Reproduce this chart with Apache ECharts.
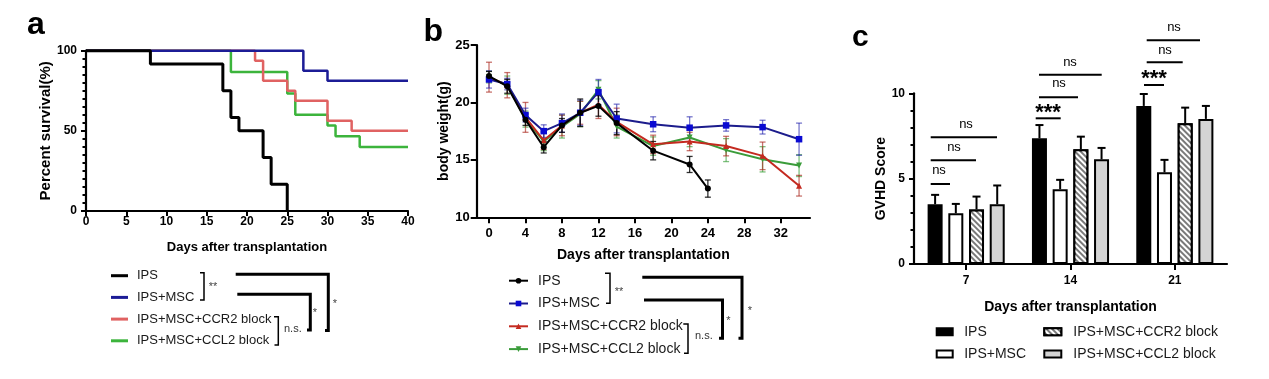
<!DOCTYPE html>
<html><head><meta charset="utf-8">
<script src="https://cdn.jsdelivr.net/npm/echarts@6/dist/echarts.min.js"></script>
<style>html,body{margin:0;padding:0;background:#fff}#c{width:1269px;height:379px}</style>
</head><body><div id="c"></div>
<script>
// ---------------- DATA ----------------
const groupNames = ['IPS', 'IPS+MSC', 'IPS+MSC+CCR2 block', 'IPS+MSC+CCL2 block'];

// (a) Kaplan-Meier survival: [day, percent]
const survIPS  = [[0,100],[8,91.7],[17,75],[18,58.3],[19,50],[22,33.3],[23,16.7],[25,0]];
const survMSC  = [[0,100],[27,87.5],[30,81.3],[40,81.3]];
const survCCR2 = [[0,100],[21,93.8],[22,81.3],[25,75],[26,68.8],[30,56.3],[33,50],[40,50]];
const survCCL2 = [[0,100],[18,86.7],[25,73.3],[26,60],[30,53.3],[31,46.7],[34,40],[40,40]];
const survXTicks = [0,5,10,15,20,25,30,35,40];

// (b) body weight (g)
const wDays    = [0,2,4,6,8,10,12,14,18,22,26,30,34];
const ipsDays  = [0,2,4,6,8,10,12,14,18,22,24];
const wIPS     = [22.3,21.4,18.5,16.1,18.0,19.1,19.7,18.2,15.8,14.6,12.5];
const wIPSErr  = [0.4,0.6,0.5,0.5,0.6,1.2,0.9,1.0,0.8,0.7,0.75];
const wMSC     = [22.0,21.6,18.9,17.5,18.2,19.1,20.9,18.6,18.1,17.8,18.0,17.85,16.8];
const wMSCErr  = [0.75,0.5,0.6,0.55,0.8,1.1,1.1,1.25,0.65,0.95,0.5,0.6,1.4];
const wCCR2    = [22.2,21.5,18.7,16.7,18.0,19.1,19.8,18.3,16.35,16.6,16.2,15.35,12.75];
const wCCR2Err = [1.3,1.1,1.3,0.8,0.9,1.0,1.2,1.2,0.8,0.8,0.85,1.2,0.9];
const wCCL2    = [22.2,21.5,18.55,16.6,17.9,19.0,21.1,17.9,16.2,16.95,15.85,15.05,14.5];
const wCCL2Err = [0.5,0.8,0.7,0.8,1.0,1.1,0.8,1.0,0.8,0.8,1.0,1.1,0.95];
const wXTicks  = [0,4,8,12,16,20,24,28,32];

// (c) GVHD score
const gDays    = ['7','14','21'];
const gIPS     = [3.5,7.36,9.26];
const gIPSErr  = [0.55,0.78,0.7];
const gMSC     = [2.97,4.38,5.37];
const gMSCErr  = [0.55,0.55,0.73];
const gCCR2    = [3.2,6.72,8.24];
const gCCR2Err = [0.75,0.74,0.92];
const gCCL2    = [3.5,6.13,8.5];
const gCCL2Err = [1.1,0.67,0.76];

// ---------------- STYLE ----------------
const FONT = 'Liberation Sans, Arial, sans-serif';
const BAR_W = 15, BAR_GAP = 0.38;

function axisCommon(o) {
  return Object.assign({
    axisLine: {show: true, onZero: false, lineStyle: {color: '#000', width: 2.2}},
    axisTick: {show: true, length: 5, lineStyle: {color: '#000', width: 2}},
    axisLabel: {color: '#000', fontWeight: 'bold', fontSize: 12, fontFamily: FONT},
    splitLine: {show: false},
    nameLocation: 'middle',
    nameTextStyle: {color: '#000', fontWeight: 'bold', fontSize: 14, fontFamily: FONT}
  }, o);
}
function merge(a, b) { return Object.assign({}, a, b); }
const pairs = (xs, ys) => xs.map((x, i) => [x, ys[i]]);

function errSeriesB(name, xs, ys, errs, color) {
  return {
    name: name, type: 'custom', xAxisIndex: 1, yAxisIndex: 1, z: 1, silent: true,
    encode: {x: 0, y: [1, 2]},
    data: xs.map((x, i) => [x, ys[i] - errs[i], ys[i] + errs[i]]),
    renderItem: function (params, api) {
      const x = api.value(0);
      const lo = api.coord([x, api.value(1)]);
      const hi = api.coord([x, api.value(2)]);
      const hw = 3;
      const st = {stroke: color, lineWidth: 1.3};
      return {type: 'group', children: [
        {type: 'line', shape: {x1: lo[0], y1: lo[1], x2: hi[0], y2: hi[1]}, style: st},
        {type: 'line', shape: {x1: lo[0] - hw, y1: lo[1], x2: lo[0] + hw, y2: lo[1]}, style: st},
        {type: 'line', shape: {x1: hi[0] - hw, y1: hi[1], x2: hi[0] + hw, y2: hi[1]}, style: st}
      ]};
    }
  };
}

function errSeriesC(name, k, ys, errs) {
  return {
    name: name, type: 'custom', xAxisIndex: 2, yAxisIndex: 2, z: 3, silent: true,
    encode: {x: 0, y: [1, 2]},
    data: ys.map((y, i) => [i, y, y + errs[i]]),
    renderItem: function (params, api) {
      const c = api.value(0);
      const base = api.coord([c, api.value(1)]);
      const top = api.coord([c, api.value(2)]);
      const x = base[0] + (k - 1.5) * BAR_W * (1 + BAR_GAP);
      const hw = 4;
      const st = {stroke: '#000', lineWidth: 2};
      return {type: 'group', children: [
        {type: 'line', shape: {x1: x, y1: base[1], x2: x, y2: top[1]}, style: st},
        {type: 'line', shape: {x1: x - hw, y1: top[1], x2: x + hw, y2: top[1]}, style: st}
      ]};
    }
  };
}

const colA = ['#000000', '#1c1c96', '#e06262', '#3cb43c'];
const colBLine = ['#000000', '#1c1c8c', '#c42a20', '#3a9c3a'];
const colBSym  = ['#000000', '#0a0ad2', '#c42a20', '#3a9c3a'];
const colBErr  = ['rgba(0,0,0,0.8)', 'rgba(30,30,170,0.6)', 'rgba(170,40,30,0.65)', 'rgba(40,150,40,0.6)'];

const fmt = (n) => n.split('|')[1];

// ---------------- SERIES ----------------
const series = [];
// panel a (draw black last)
const survData = [survIPS, survMSC, survCCR2, survCCL2];
[3, 2, 1, 0].forEach(function (k) {
  series.push({
    name: 'a|' + groupNames[k], type: 'line', xAxisIndex: 0, yAxisIndex: 0,
    step: 'end', symbol: 'none', clip: false, z: 2 + (3 - k),
    data: survData[k],
    itemStyle: {color: colA[k]},
    lineStyle: {color: colA[k], width: k === 0 ? 3 : 2.5}
  });
});
// panel b
const wData = [pairs(ipsDays, wIPS), pairs(wDays, wMSC), pairs(wDays, wCCR2), pairs(wDays, wCCL2)];
const wErr = [[ipsDays, wIPS, wIPSErr], [wDays, wMSC, wMSCErr], [wDays, wCCR2, wCCR2Err], [wDays, wCCL2, wCCL2Err]];
const syms = ['circle', 'rect', 'triangle', 'path://M0,0 L10,0 L5,10 Z'];
const symSize = [6, 6.5, 6, 6];
[3, 2, 1, 0].forEach(function (k) {
  series.push(errSeriesB('eb' + k, wErr[k][0], wErr[k][1], wErr[k][2], colBErr[k]));
});
[3, 2, 1, 0].forEach(function (k) {
  series.push({
    name: 'b|' + groupNames[k], type: 'line', xAxisIndex: 1, yAxisIndex: 1,
    symbol: syms[k], symbolSize: symSize[k], showSymbol: true, clip: false, z: 3 + (3 - k),
    data: wData[k],
    itemStyle: {color: colBSym[k]},
    lineStyle: {color: colBLine[k], width: 2}
  });
});
// panel c
const gData = [gIPS, gMSC, gCCR2, gCCL2];
const gErr = [gIPSErr, gMSCErr, gCCR2Err, gCCL2Err];
const barStyles = [
  {color: '#000000', borderColor: '#000', borderWidth: 2},
  {color: '#ffffff', borderColor: '#000', borderWidth: 2},
  {color: '#7a7a7a', borderColor: '#000', borderWidth: 2,
    decal: {symbol: 'rect', symbolSize: 1, color: '#ffffff', dashArrayX: [1, 0], dashArrayY: [1.9, 1.9], rotation: Math.PI / 4}},
  {color: '#d4d4d4', borderColor: '#000', borderWidth: 2}
];
[0, 1, 2, 3].forEach(function (k) {
  series.push({
    name: 'c|' + groupNames[k], type: 'bar', xAxisIndex: 2, yAxisIndex: 2,
    barWidth: BAR_W, barGap: (BAR_GAP * 100) + '%', z: 2,
    data: gData[k], itemStyle: barStyles[k]
  });
});
[0, 1, 2, 3].forEach(function (k) { series.push(errSeriesC('ec' + k, k, gData[k], gErr[k])); });

// ---------------- ANNOTATIONS ----------------
const T = (x, y, text, size, opts) => ({
  type: 'text', x: x, y: y, silent: true,
  style: Object.assign({text: text, fontSize: size, fontFamily: FONT, fill: '#000', align: 'center', verticalAlign: 'middle'}, opts || {})
});
const PL = (pts, w) => ({type: 'polyline', silent: true, shape: {points: pts}, style: {stroke: '#000', lineWidth: w, fill: null, lineJoin: 'miter'}});
const LN = (x1, x2, y) => ({type: 'line', silent: true, shape: {x1: x1, y1: y, x2: x2, y2: y}, style: {stroke: '#000', lineWidth: 2}});

const graphics = [
  T(27, 25.5, 'a', 32, {fontWeight: 'bold', align: 'left'}),
  T(423.5, 32.5, 'b', 32, {fontWeight: 'bold', align: 'left'}),
  T(852, 38, 'c', 30, {fontWeight: 'bold', align: 'left'}),
  // panel a brackets
  PL([[200, 272.7], [204, 272.7], [204, 300], [200, 300]], 1.5),
  T(213, 287.4, '**', 11, {fill: '#444'}),
  PL([[235.7, 274.3], [328.3, 274.3], [328.3, 330.5], [325, 330.5]], 3),
  T(335, 304, '*', 11, {fill: '#444'}),
  PL([[237.3, 294.3], [310.3, 294.3], [310.3, 330], [307, 330]], 3),
  T(315, 313.4, '*', 11, {fill: '#444'}),
  PL([[274, 316.7], [278.3, 316.7], [278.3, 345], [274.5, 345]], 1.5),
  T(284, 329, 'n.s.', 11, {align: 'left', fill: '#333'}),
  // panel b brackets
  PL([[605, 273.3], [610, 273.3], [610, 303.3], [606, 303.3]], 1.5),
  T(619, 292.4, '**', 11, {fill: '#444'}),
  PL([[642.3, 277.3], [742, 277.3], [742, 338.3], [738.5, 338.3]], 3),
  T(750, 310.7, '*', 11, {fill: '#444'}),
  PL([[644, 300], [722.5, 300], [722.5, 338.3], [719, 338.3]], 3),
  T(728.3, 320.7, '*', 11, {fill: '#444'}),
  PL([[683.3, 324], [688, 324], [688, 353.3], [684, 353.3]], 1.5),
  T(695, 336, 'n.s.', 11, {align: 'left', fill: '#333'}),
  // panel c significance
  LN(930.7, 950, 184), LN(930.7, 976, 160.3), LN(930.7, 997, 137.3),
  LN(1035.7, 1060.7, 118.3), LN(1039, 1078, 97.3), LN(1039, 1101.7, 74.7),
  LN(1144, 1164, 85), LN(1146.7, 1182.7, 62.3), LN(1146.7, 1200, 40.3),
  T(939, 170.5, 'ns', 13), T(954, 147, 'ns', 13), T(966, 124.6, 'ns', 13),
  T(1048, 112.6, '***', 22, {fontWeight: 'bold'}), T(1059, 83.8, 'ns', 13), T(1070, 62.1, 'ns', 13),
  T(1154, 79, '***', 22, {fontWeight: 'bold'}), T(1165, 50.5, 'ns', 13), T(1174, 27.5, 'ns', 13)
];

// ---------------- OPTION ----------------
const legendBase = {orient: 'vertical', padding: 0, selectedMode: false, formatter: fmt};
const option = {
  animation: false,
  backgroundColor: '#ffffff',
  textStyle: {fontFamily: FONT},
  grid: [
    {left: 86, top: 50.7, width: 322, height: 160.3, outerBoundsMode: 'none'},
    {left: 476.7, top: 45, width: 333.3, height: 172.3, outerBoundsMode: 'none'},
    {left: 914, top: 93.3, width: 313, height: 170.7, outerBoundsMode: 'none'}
  ],
  xAxis: [
    axisCommon({gridIndex: 0, type: 'value', min: survXTicks[0], max: survXTicks[survXTicks.length - 1], interval: 5,
      axisLabel: {color: '#000', fontWeight: 'bold', fontSize: 12, margin: 5, fontFamily: FONT},
      name: 'Days after transplantation', nameGap: 30,
      nameTextStyle: {color: '#000', fontWeight: 'bold', fontSize: 13, fontFamily: FONT}}),
    axisCommon({gridIndex: 1, type: 'value', min: -1.35, max: 35.2,
      axisTick: {show: true, length: 6, customValues: wXTicks, lineStyle: {color: '#000', width: 2}},
      axisLabel: {color: '#000', fontWeight: 'bold', fontSize: 13, margin: 10, customValues: wXTicks, fontFamily: FONT},
      name: 'Days after transplantation', nameGap: 31}),
    axisCommon({gridIndex: 2, type: 'category', data: gDays, boundaryGap: true,
      axisTick: {show: true, length: 6, alignWithLabel: true, lineStyle: {color: '#000', width: 2}},
      axisLabel: {color: '#000', fontWeight: 'bold', fontSize: 12, margin: 11, fontFamily: FONT},
      name: 'Days after transplantation', nameGap: 36})
  ],
  yAxis: [
    axisCommon({gridIndex: 0, type: 'value', min: 0, max: 100, interval: 50,
      minorTick: {show: true, splitNumber: 10, length: 3.5, lineStyle: {color: '#000', width: 2}},
      minorSplitLine: {show: false},
      axisLabel: {color: '#000', fontWeight: 'bold', fontSize: 12, margin: 9, fontFamily: FONT},
      name: 'Percent survival(%)', nameGap: 33,
      nameTextStyle: {color: '#000', fontWeight: 'bold', fontSize: 15, fontFamily: FONT}}),
    axisCommon({gridIndex: 1, type: 'value', min: 10, max: 25, interval: 5,
      axisTick: {show: true, length: 6, lineStyle: {color: '#000', width: 2}},
      axisLabel: {color: '#000', fontWeight: 'bold', fontSize: 13, margin: 7, fontFamily: FONT},
      name: 'body weight(g)', nameGap: 25}),
    axisCommon({gridIndex: 2, type: 'value', min: 0, max: 10, interval: 5,
      minorTick: {show: true, splitNumber: 5, length: 3.5, lineStyle: {color: '#000', width: 2}},
      minorSplitLine: {show: false},
      axisLabel: {color: '#000', fontWeight: 'bold', fontSize: 12, margin: 9, fontFamily: FONT},
      name: 'GVHD Score', nameGap: 26})
  ],
  legend: [
    merge(legendBase, {left: 111, top: 268.7, itemWidth: 17, itemHeight: 3, itemGap: 7.7, icon: 'rect',
      data: groupNames.map(n => 'a|' + n),
      textStyle: {fontSize: 13, color: '#1a1a1a', lineHeight: 14, padding: [0, 0, 0, 4]}}),
    merge(legendBase, {left: 508, top: 273.7, itemWidth: 19, itemHeight: 7, itemGap: 8.8,
      data: groupNames.map(n => 'b|' + n),
      textStyle: {fontSize: 14, color: '#1a1a1a', lineHeight: 14, padding: [0, 0, 0, 5]}}),
    merge(legendBase, {left: 935.7, top: 324.7, itemWidth: 16, itemHeight: 7, itemGap: 8.3, icon: 'rect',
      data: ['c|' + groupNames[0], 'c|' + groupNames[1]],
      textStyle: {fontSize: 14, color: '#1a1a1a', lineHeight: 14, padding: [0, 0, 0, 6.5]}}),
    merge(legendBase, {left: 1043.3, top: 324.7, itemWidth: 17, itemHeight: 7, itemGap: 8.3, icon: 'rect',
      data: ['c|' + groupNames[2], 'c|' + groupNames[3]],
      textStyle: {fontSize: 14, color: '#1a1a1a', lineHeight: 14, padding: [0, 0, 0, 7]}})
  ],
  graphic: graphics,
  series: series
};

const chart = echarts.init(document.getElementById('c'), null, {renderer: 'canvas'});
chart.setOption(option);
</script></body></html>
